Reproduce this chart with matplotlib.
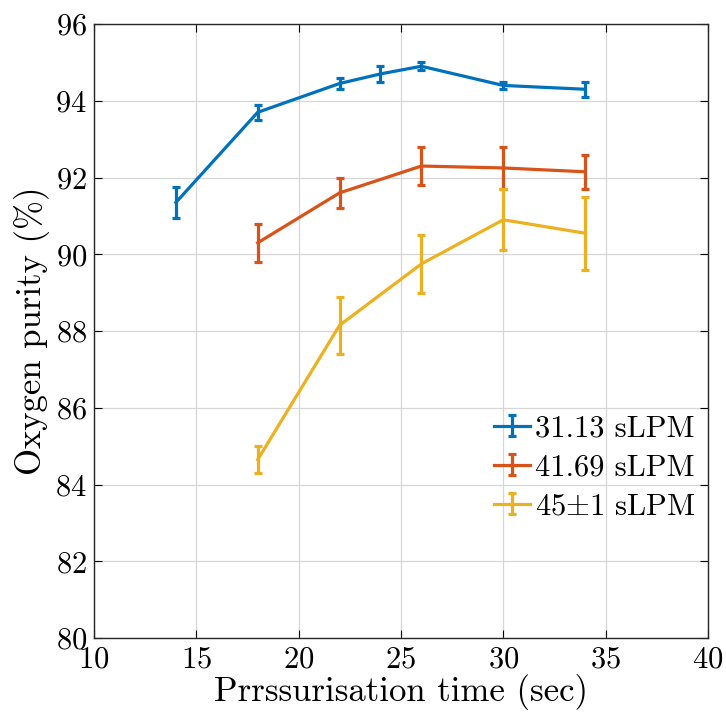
import matplotlib
matplotlib.use("Agg")
import matplotlib.pyplot as plt
from matplotlib.container import ErrorbarContainer
from matplotlib.legend_handler import HandlerErrorbar

plt.rcParams['font.family'] = ['cmr10']
plt.rcParams['mathtext.fontset'] = 'cm'
plt.rcParams['axes.formatter.use_mathtext'] = True

x_blue = [14, 18, 22, 24, 26, 30, 34]
y_blue = [91.35, 93.7, 94.45, 94.7, 94.9, 94.4, 94.3]
e_blue = [0.4, 0.2, 0.15, 0.2, 0.1, 0.1, 0.2]

x_orange = [18, 22, 26, 30, 34]
y_orange = [90.3, 91.6, 92.3, 92.25, 92.15]
e_orange = [0.5, 0.4, 0.5, 0.55, 0.45]

x_yellow = [18, 22, 26, 30, 34]
y_yellow = [84.65, 88.15, 89.75, 90.9, 90.55]
e_yellow = [0.35, 0.75, 0.75, 0.8, 0.95]

labels = ['31.13 sLPM', '41.69 sLPM', r'45$\pm$1 sLPM']
colors = ['#0072BD', '#D95319', '#EDB120']

fig = plt.figure(figsize=(7.26, 7.17), dpi=100)
ax = fig.add_axes([0.1295, 0.110, 0.8455, 0.8565])

for xs, ys, es, c, lab in zip([x_blue, x_orange, x_yellow],
                              [y_blue, y_orange, y_yellow],
                              [e_blue, e_orange, e_yellow], colors, labels):
    ax.errorbar(xs, ys, yerr=es, color=c, lw=2.3, elinewidth=2.3,
                capsize=3, capthick=2.3, label=lab)

ax.set_xlim(10, 40)
ax.set_ylim(80, 96)
ax.set_xticks(range(10, 41, 5))
ax.set_yticks(range(80, 97, 2))
ax.grid(True, color='#d6d6d6', lw=0.9)
ax.set_axisbelow(True)
ax.tick_params(direction='in', length=6, width=0.8, labelsize=22, top=True, right=True,
               labeltop=False, labelright=False)
ax.tick_params(axis='x', pad=6)
ax.tick_params(axis='y', pad=5)
for s in ax.spines.values():
    s.set_linewidth(1.0)
    s.set_color('#262626')
ax.set_xlabel('Prrssurisation time (sec)', fontsize=25, labelpad=0)
ax.set_ylabel('Oxygen purity (%)', fontsize=25, labelpad=4)

leg = ax.legend(loc='lower right', bbox_to_anchor=(1.02, 0.152), frameon=False,
                fontsize=22, handlelength=1.2, handletextpad=0.15,
                borderpad=0.3, labelspacing=0.38,
                handler_map={ErrorbarContainer: HandlerErrorbar(xerr_size=0.3, yerr_size=0.35)})

fig.savefig('out.png', dpi=100)
